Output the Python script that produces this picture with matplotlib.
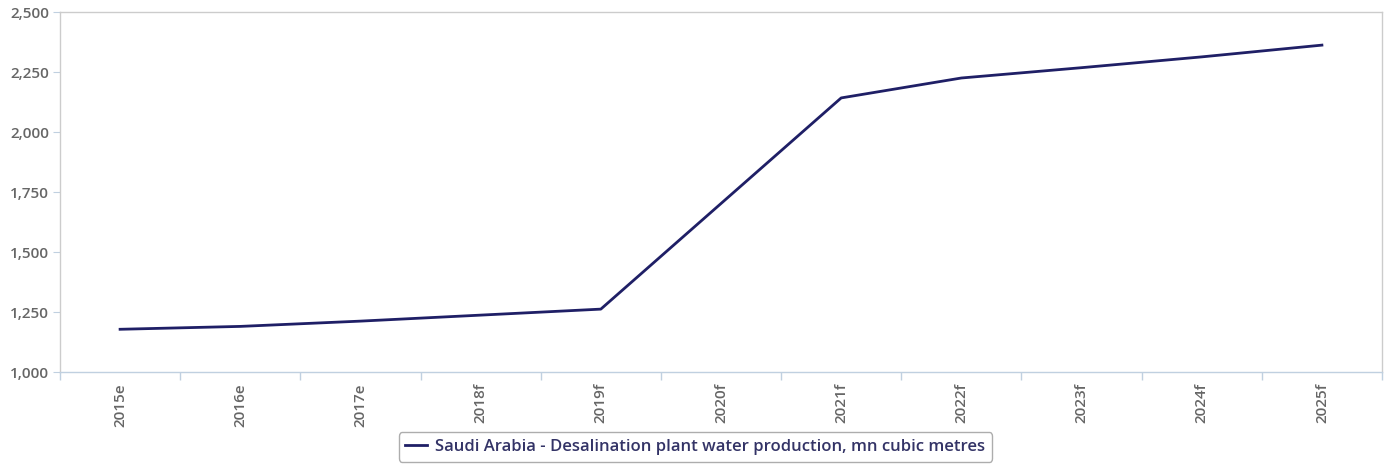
import matplotlib
matplotlib.use("Agg")
import matplotlib.pyplot as plt
from matplotlib.ticker import FuncFormatter, FixedLocator

categories = ["2015e", "2016e", "2017e", "2018f", "2019f", "2020f",
              "2021f", "2022f", "2023f", "2024f", "2025f"]
values = [1178, 1190, 1212, 1237, 1262, 1702, 2142, 2225, 2268, 2313, 2362]
series_name = "Saudi Arabia - Desalination plant water production, mn cubic metres"
y_ticks = [1000, 1250, 1500, 1750, 2000, 2250, 2500]

plt.rcParams['font.family'] = ['Open Sans', 'DejaVu Sans']

fig = plt.figure(figsize=(13.91, 4.65), dpi=100)
ax = fig.add_axes([60/1391, 93/465, 1322/1391, 360/465])

line_color = "#1f1f66"
text_color = "#666666"
ax.plot(range(len(categories)), values, color=line_color, lw=2, label=series_name)

ax.set_xlim(-0.5, len(categories) - 0.5)
ax.set_ylim(1000, 2500)
ax.yaxis.set_major_locator(FixedLocator(y_ticks))
ax.yaxis.set_major_formatter(FuncFormatter(lambda v, p: f"{int(v):,}"))

ax.set_xticks(range(len(categories)))
ax.set_xticklabels(categories, rotation=90)
ax.set_xticks([i - 0.5 for i in range(len(categories) + 1)], minor=True)
ax.tick_params(axis='x', which='major', length=0, pad=8, labelsize=11, labelcolor=text_color)
ax.tick_params(axis='x', which='minor', length=6, color="#c0d0e0", width=1)
ax.tick_params(axis='y', length=5, color="#c0d0e0", labelsize=11, labelcolor=text_color, pad=3)
for lab in ax.get_xticklabels() + ax.get_yticklabels():
    lab.set_fontweight('semibold')

for s in ["top", "right", "left"]:
    ax.spines[s].set_color("#cccccc")
    ax.spines[s].set_linewidth(1)
ax.spines["bottom"].set_color("#c0d0e0")
ax.spines["bottom"].set_linewidth(1)

leg = fig.legend(loc="center", bbox_to_anchor=(0.5, 18/465), frameon=True,
                 fontsize=12, handlelength=1.3, handletextpad=0.5,
                 borderpad=0.4, fancybox=True)
leg.get_frame().set_edgecolor("#999999")
leg.get_frame().set_linewidth(1)
for t in leg.get_texts():
    t.set_color("#333366")
    t.set_fontweight('semibold')

fig.savefig("out.png", dpi=100)
